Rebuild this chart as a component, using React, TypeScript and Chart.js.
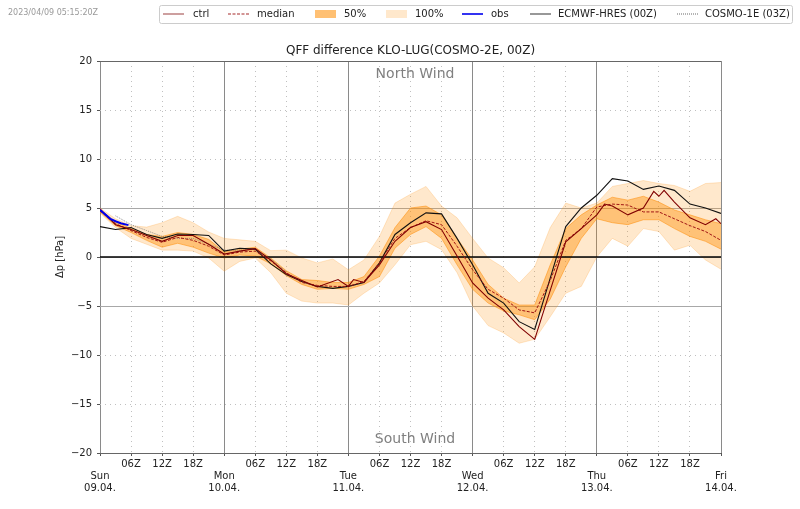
import { useEffect, useRef } from 'react';
import { Chart, registerables } from 'chart.js';

Chart.register(...registerables);

const dayLabels = ['Sun', 'Mon', 'Tue', 'Wed', 'Thu', 'Fri'];
const dateLabels = ['09.04.', '10.04.', '11.04.', '12.04.', '13.04.', '14.04.'];
const hourLabels = { 6: '06Z', 12: '12Z', 18: '18Z' };

// every 3 hours, 0 to 120
const hours = [0, 3, 6, 9, 12, 15, 18, 21, 24, 27, 30, 33, 36, 39, 42, 45, 48, 51, 54, 57, 60, 63, 66, 69, 72, 75, 78, 81, 84, 87, 90, 93, 96, 99, 102, 105, 108, 111, 114, 117, 120];
const upper100 = [5.0, 3.9, 3.2, 3.05, 3.5, 4.15, 3.5, 2.55, 1.9, 1.75, 1.6, 0.65, 0.7, -0.1, -0.6, -0.2, -1.3, -0.3, 2.1, 5.5, 6.4, 7.2, 5.2, 4.0, 1.9, -0.1, -1.1, -2.65, -1.0, 3.0, 5.5, 5.0, 5.5, 7.2, 7.5, 7.8, 7.5, 7.3, 6.7, 7.5, 7.6];
const lower100 = [4.5, 3.0, 1.9, 1.3, 0.7, 0.7, 0.6, -0.1, -1.45, -0.45, -0.1, -1.6, -3.7, -4.5, -4.7, -4.7, -4.9, -3.7, -2.65, -0.8, 1.25, 1.6, 0.75, -1.6, -5, -7, -7.75, -8.8, -8.4, -6.1, -3.7, -3, 0, 1.9, 1.1, 2.9, 2.6, 0.7, 1.2, -0.3, -1.25];
const upper50 = [4.8, 3.6, 2.9, 2.3, 2.1, 2.5, 2.3, 1.8, 0.5, 0.8, 1.0, -0.1, -1.4, -2.3, -2.4, -2.6, -2.6, -2, 0.1, 3, 5, 5.2, 4.3, 1.9, -0.3, -2.8, -4.2, -4.9, -4.9, -0.8, 2.9, 4.3, 5.3, 6.1, 5.8, 6.2, 5.6, 4.8, 4.3, 3.8, 3.4];
const lower50 = [4.6, 3.2, 2.5, 1.7, 1.0, 1.4, 1.0, 0.4, -0.1, 0.2, 0.1, -0.7, -1.9, -2.8, -3.3, -3.2, -3.3, -2.8, -2, 0.9, 2.3, 3.1, 1.9, -0.8, -3.3, -4.7, -5.5, -5.9, -6.4, -4.3, -1, 1.9, 3.9, 3.5, 3.3, 3.8, 3.8, 2.9, 2.1, 1.6, 0.8];
const median = [4.7, 3.4, 2.7, 2.0, 1.5, 2.0, 1.7, 1.1, 0.2, 0.5, 0.6, -0.4, -1.6, -2.6, -2.9, -3.0, -3.0, -2.5, -0.6, 1.9, 3.0, 3.7, 3.3, 1.1, -1.3, -3.3, -4.2, -5.4, -5.7, -2.4, 1.7, 2.9, 5.1, 5.4, 5.3, 4.6, 4.6, 3.9, 3.2, 2.6, 1.7];
const hres = [3.1, 2.8, 3.0, 2.3, 1.9, 2.35, 2.3, 2.2, 0.6, 0.9, 0.8, -0.7, -1.8, -2.5, -3.0, -3.2, -3.0, -2.6, -0.6, 2.3, 3.5, 4.5, 4.4, 1.9, -0.8, -3.7, -4.7, -6.6, -7.4, -2.15, 3.1, 5.0, 6.3, 8.0, 7.75, 6.9, 7.25, 6.8, 5.4, 5.0, 4.45];

const ctrlHours = [0, 3, 6, 9, 12, 15, 18, 21, 24, 27, 30, 33, 36, 39, 42, 46, 48, 49, 51, 54, 57, 60, 63, 66, 69, 72, 75, 78, 81, 84, 87, 90, 93, 96, 97.5, 99, 102, 105, 107, 108, 109, 111, 114, 117, 119, 120];
const ctrl = [4.9, 3.3, 2.8, 2.2, 1.6, 2.2, 2.2, 1.3, 0.3, 0.6, 0.85, -0.3, -1.7, -2.4, -3.06, -2.3, -3.0, -2.3, -2.6, -0.8, 1.6, 3, 3.6, 2.8, 0.1, -2.65, -4.2, -5.4, -7.1, -8.4, -3.4, 1.55, 2.9, 4.3, 5.4, 5.2, 4.3, 5, 6.7, 6.2, 6.8, 5.6, 4, 3.3, 3.9, 3.4];

const obsHours = [0, 1, 2, 3, 4, 5.5];
const obs = [4.8, 4.35, 3.9, 3.65, 3.45, 3.25];

const cosmoHours = [3, 6, 9, 12, 15, 18, 21, 24, 27, 30, 33, 36];
const cosmo = [4.2, 3.3, 2.7, 2.1, 1.9, 1.9, 1.3, 0.7, 0.7, 0.8, -0.2, -1.5];

const zeroHours = [0, 120];
const zero = [0, 0];

const legendItems = [
    { label: 'ctrl', kind: 'line', color: 'rgb(165,80,80)', x: 163, tx: 193 },
    { label: 'median', kind: 'dash', color: 'rgb(165,42,42)', x: 228, tx: 257 },
    { label: '50%', kind: 'box', color: 'rgba(255,140,0,0.55)', x: 315, tx: 344 },
    { label: '100%', kind: 'box', color: 'rgba(255,140,0,0.2)', x: 386, tx: 415 },
    { label: 'obs', kind: 'line', color: '#0000ee', x: 462, tx: 491 },
    { label: 'ECMWF-HRES (00Z)', kind: 'line', color: '#444444', x: 530, tx: 558 },
    { label: 'COSMO-1E (03Z)', kind: 'dots', color: '#777777', x: 677, tx: 705 },
];

const FONT = '"DejaVu Sans"';
const pts = (xs: number[], ys: number[]) => xs.map((x, i) => ({ x, y: ys[i] }));

const extras = {
    id: 'extras',
    afterDraw(chart: Chart) {
        const { ctx, chartArea } = chart;
        const midX = (chartArea.left + chartArea.right) / 2;
        ctx.save();
        ctx.textBaseline = 'middle';

        ctx.fillStyle = '#999999';
        ctx.font = `8px ${FONT}`;
        ctx.fillText('2023/04/09 05:15:20Z', 8, 13);

        ctx.fillStyle = '#222222';
        ctx.font = `12px ${FONT}`;
        ctx.textAlign = 'center';
        ctx.fillText('QFF difference KLO-LUG(COSMO-2E, 00Z)', midX, 51);

        ctx.fillStyle = '#808080';
        ctx.font = `14px ${FONT}`;
        ctx.fillText('North Wind', 415, 74);
        ctx.fillText('South Wind', 415, 439);

        // y axis title, drawn here because the scale keeps it at the far left
        ctx.save();
        ctx.translate(60, 257);
        ctx.rotate(-Math.PI / 2);
        ctx.fillStyle = '#222222';
        ctx.font = `10px ${FONT}`;
        ctx.fillText('Δp [hPa]', 0, 0);
        ctx.restore();

        // legend frame
        ctx.strokeStyle = '#cccccc';
        ctx.lineWidth = 1;
        ctx.beginPath();
        ctx.roundRect(159.5, 5.5, 633, 18, 2);
        ctx.stroke();

        ctx.textAlign = 'left';
        ctx.font = `10px ${FONT}`;
        legendItems.forEach((it) => {
            if (it.kind === 'box') {
                ctx.fillStyle = it.color;
                ctx.fillRect(it.x, 10, 21, 8);
            } else {
                ctx.strokeStyle = it.color;
                ctx.lineWidth = it.label === 'obs' ? 1.6 : 1.1;
                ctx.setLineDash(it.kind === 'dash' ? [3, 1.5] : it.kind === 'dots' ? [1, 1] : []);
                ctx.beginPath();
                ctx.moveTo(it.x, 14);
                ctx.lineTo(it.x + 21, 14);
                ctx.stroke();
                ctx.setLineDash([]);
            }
            ctx.fillStyle = '#222222';
            ctx.fillText(it.label, it.tx, 14);
        });
        ctx.restore();
    },
};

const App = () => {
    const chartRef = useRef<HTMLCanvasElement | null>(null);

    useEffect(() => {
        const ctx = chartRef.current?.getContext('2d');
        if (!ctx) return;
        const thin = { pointRadius: 0, tension: 0 };
        const myChart = new Chart(ctx, {
            type: 'line',
            data: {
                datasets: [
                    { label: '100% upper', data: pts(hours, upper100), fill: '+1', backgroundColor: 'rgba(255,140,0,0.2)', borderColor: 'rgba(255,140,0,0.2)', borderWidth: 1, order: 9, ...thin },
                    { label: '100% lower', data: pts(hours, lower100), fill: false, borderColor: 'rgba(255,140,0,0.2)', borderWidth: 1, order: 8, ...thin },
                    { label: '50% upper', data: pts(hours, upper50), fill: '+1', backgroundColor: 'rgba(255,140,0,0.42)', borderColor: 'rgba(255,140,0,0.5)', borderWidth: 1, order: 7, ...thin },
                    { label: '50% lower', data: pts(hours, lower50), fill: false, borderColor: 'rgba(255,140,0,0.5)', borderWidth: 1, order: 6, ...thin },
                    { label: 'zero', data: pts(zeroHours, zero), borderColor: '#000000', borderWidth: 1.5, order: 5, ...thin },
                    { label: 'COSMO-1E (03Z)', data: pts(cosmoHours, cosmo), borderColor: '#777777', borderWidth: 0.8, borderDash: [1, 1], order: 4, ...thin },
                    { label: 'ECMWF-HRES (00Z)', data: pts(hours, hres), borderColor: '#111111', borderWidth: 1.1, order: 3, ...thin },
                    { label: 'median', data: pts(hours, median), borderColor: 'rgb(160,20,20)', borderWidth: 1, borderDash: [3, 1.5], order: 2, ...thin },
                    { label: 'ctrl', data: pts(ctrlHours, ctrl), borderColor: 'rgb(128,0,0)', borderWidth: 1.1, order: 1, ...thin },
                    { label: 'obs', data: pts(obsHours, obs), borderColor: '#0000ee', borderWidth: 2, order: 0, ...thin },
                ],
            },
            options: {
                animation: false,
                responsive: false,
                layout: { padding: { top: 61, right: 79, left: 0, bottom: 0 } },
                plugins: { legend: { display: false }, title: { display: false }, tooltip: { enabled: false } },
                scales: {
                    x: {
                        type: 'linear',
                        min: 0,
                        max: 120,
                        afterFit: (s: any) => { s.height = 56; },
                        ticks: {
                            stepSize: 6,
                            autoSkip: false,
                            maxRotation: 0,
                            color: '#222222',
                            font: { family: FONT, size: 10 },
                            padding: 2,
                            callback: (v: any) => {
                                const h = Number(v);
                                if (h % 24 === 0) return ['', dayLabels[h / 24], dateLabels[h / 24]];
                                return (hourLabels as any)[h % 24];
                            },
                        },
                        border: {
                            display: false,
                            dash: (c: any) => (c.tick && c.tick.value % 24 !== 0 ? [1, 4] : []),
                        },
                        grid: {
                            color: (c: any) => (c.tick && c.tick.value % 24 === 0 ? '#8a8a8a' : '#c0c0c0'),
                            tickColor: '#555555',
                            tickLength: 3,
                            lineWidth: 1,
                        },
                    },
                    y: {
                        min: -20,
                        max: 20,
                        afterFit: (s: any) => { s.width = 100; },
                        ticks: {
                            stepSize: 5,
                            color: '#222222',
                            font: { family: FONT, size: 10 },
                            padding: 5,
                            callback: (v: any) => String(v).replace('-', '−'),
                        },
                        border: {
                            display: false,
                            dash: (c: any) => {
                                const v = c.tick ? Math.abs(c.tick.value) : 0;
                                return v >= 10 && v < 20 ? [1, 4] : [];
                            },
                        },
                        grid: {
                            color: (c: any) => {
                                const v = c.tick ? Math.abs(c.tick.value) : 0;
                                return v === 20 ? '#666666' : v === 5 ? '#a8a8a8' : '#c0c0c0';
                            },
                            tickColor: '#555555',
                            tickLength: 3,
                            lineWidth: 1,
                        },
                    },
                },
            },
            plugins: [extras],
        } as any);

        return () => {
            myChart.destroy();
        };
    }, []);

    return (
        <div style={{ position: 'fixed', left: 0, top: 0, width: 800, height: 509, background: '#ffffff' }}>
            <canvas ref={chartRef} width={800} height={509} style={{ display: 'block' }} />
        </div>
    );
};

export default App;
